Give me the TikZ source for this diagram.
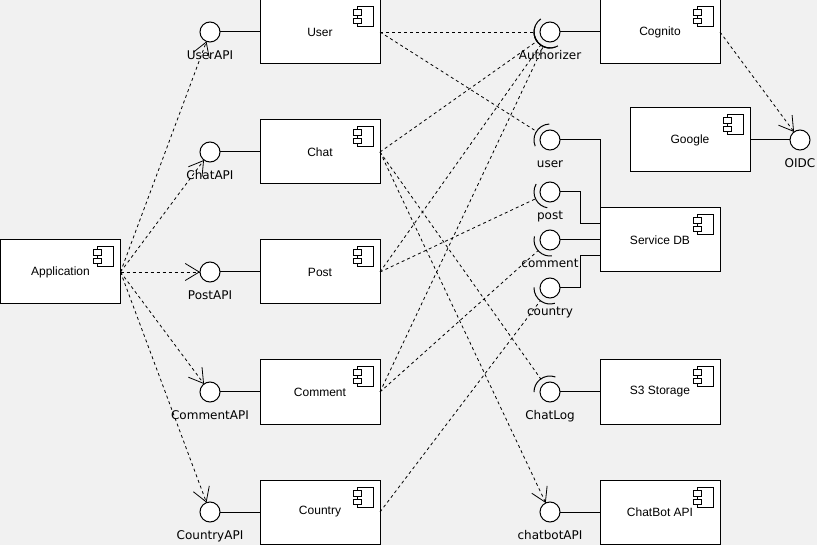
\documentclass[tikz,border=0pt]{standalone}
\usepackage{fontspec}
\setmainfont{Liberation Sans}
\newfontfamily\labelfont{DejaVu Sans}
\usepackage{tikz}
\usetikzlibrary{positioning}
\usetikzlibrary{calc}
\usetikzlibrary{arrows.meta}
\definecolor{canvasgray}{RGB}{241,241,241}

\tikzset{
  component/.style={draw, fill=white, line width=1pt, minimum width=120pt, minimum height=64pt,
    inner sep=0pt, outer sep=0pt, font=\fontsize{12}{14}\selectfont,
    path picture={
      \draw[line width=1pt] ([shift={(-23pt,-7pt)}]path picture bounding box.north east) rectangle ([shift={(-7pt,-27pt)}]path picture bounding box.north east);
      \draw[line width=1pt, fill=white] ([shift={(-27pt,-10pt)}]path picture bounding box.north east) rectangle ([shift={(-19pt,-16pt)}]path picture bounding box.north east);
      \draw[line width=1pt, fill=white] ([shift={(-27pt,-19pt)}]path picture bounding box.north east) rectangle ([shift={(-19pt,-24pt)}]path picture bounding box.north east);
    }},
  iface/.style={circle, draw, fill=white, line width=1pt, minimum size=20pt, inner sep=0pt,
    outer sep=0pt},
  iflabel/.style={font=\labelfont\fontsize{12}{14}\selectfont, inner sep=0pt, text height=9pt,
    text depth=2.5pt, yshift=-8pt},
  provides/.style={line width=1pt},
  uses/.style={line width=0.8pt, dash pattern=on 3pt off 3pt},
  socket/.style={line width=1pt},
}

\begin{document}
\begin{tikzpicture}[x=1pt, y=-1pt, node distance=56pt, >={Straight Barb[length=14pt,width=17pt]}]
  \path[use as bounding box, fill=canvasgray] (0,0) rectangle (817,545);

  % services
  \node[component] (user) at (320,32) {User};
  \node[component] (chat) [below=of user] {Chat};
  \node[component] (post) [below=of chat] {Post};
  \node[component] (comment) [below=of post] {Comment};
  \node[component] (country) [below=of comment] {Country};
  \node[component] (application) [left=139.5pt of post] {Application};

  % provided apis
  \node[iface, label={[iflabel]below:UserAPI}] (user_api) [left=40pt of user] {};
  \node[iface, label={[iflabel]below:ChatAPI}] (chat_api) [left=40pt of chat] {};
  \node[iface, label={[iflabel]below:PostAPI}] (post_api) [left=40pt of post] {};
  \node[iface, label={[iflabel]below:CommentAPI}] (comment_api) [left=40pt of comment] {};
  \node[iface, label={[iflabel]below:CountryAPI}] (country_api) [left=40pt of country] {};

  % backends
  \node[iface, label={[iflabel]below:Authorizer}] (authorizer) [right=160pt of user] {};
  \node[component] (cognito) [right=40pt of authorizer] {Cognito};
  \node[iface, label={[iflabel]below:user}] (user_if) [below=88pt of authorizer] {};
  \node[iface, label={[iflabel]below:post}] (post_if) [below=32pt of user_if] {};
  \node[iface, label={[iflabel]below:comment}] (comment_if) [below=28pt of post_if] {};
  \node[iface, label={[iflabel]below:country}] (country_if) [below=28pt of comment_if] {};
  \node[component] (service_db) [right=40pt of comment_if] {Service DB};
  \node[iface, label={[iflabel]below:ChatLog}] (chatlog_if) [right=160pt of comment] {};
  \node[component] (s3_storage) [right=40pt of chatlog_if] {S3 Storage};
  \node[iface, label={[iflabel]below:chatbotAPI}] (chatbot_api) [right=160pt of country] {};
  \node[component] (chatbot) [right=40pt of chatbot_api] {ChatBot API};
  \node[component] (google) [right=70pt of user_if] {Google};
  \node[iface, label={[iflabel]below:OIDC}] (oidc) [right=40pt of google] {};

  % lollipop lines
  \draw[provides] (user_api) -- (user);
  \draw[provides] (chat_api) -- (chat);
  \draw[provides] (post_api) -- (post);
  \draw[provides] (comment_api) -- (comment);
  \draw[provides] (country_api) -- (country);
  \draw[provides] (authorizer) -- (cognito);
  \draw[provides] (chatlog_if) -- (s3_storage);
  \draw[provides] (chatbot_api) -- (chatbot);
  \draw[provides] (google) -- (oidc);
  \draw[provides] (user_if) -| (service_db.north west);
  \draw[provides] (post_if.east) -- ++(20pt,0) |- ([yshift=16pt]service_db.west);
  \draw[provides] (comment_if) -- (service_db);
  \draw[provides] (country_if.east) -- ++(20pt,0) |- ([yshift=-16pt]service_db.west);

  % dependencies
  \foreach \api in {user_api, chat_api, post_api, comment_api, country_api}
    \draw[uses, ->] (application.east) -- (\api);
  \draw[uses, ->] (cognito.east) -- (oidc);
  \draw[uses, ->] (chat.east) -- (chatbot_api);

  % required interfaces
  \foreach \src/\dst in {user.east/authorizer, chat.east/authorizer, post.east/authorizer,
      comment.east/authorizer, user.east/user_if, post.east/post_if, comment.east/comment_if,
      country.east/country_if, chat.east/chatlog_if}{
    \draw[uses] (\src) -- ($(\dst.center)!16pt!(\src)$);
    \draw[socket] let \p1=(\dst.center), \p2=(\src), \n1={atan2(\y2-\y1,\x2-\x1)} in
      ($(\p1)+(\n1-55:16pt)$) arc[start angle=\n1-55, end angle=\n1+55, radius=16pt];
  }
\end{tikzpicture}
\end{document}
